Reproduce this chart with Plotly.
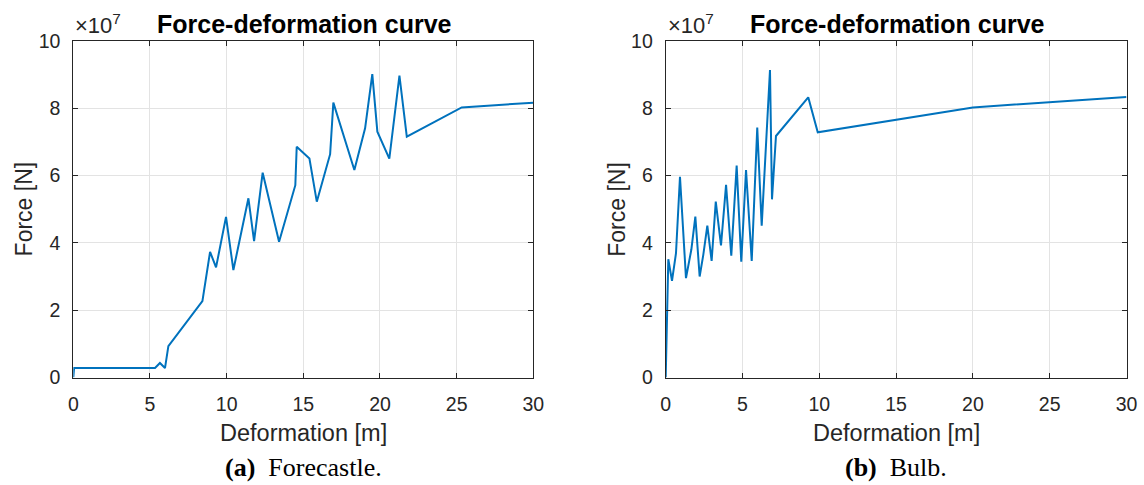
import plotly.graph_objects as go

# Force-deformation data, force in units of 1e7 N
deform_forecastle = [0, 0.05, 5.33, 5.65, 5.98, 6.2, 8.42, 8.92, 9.31, 9.96, 10.44, 11.42, 11.79,
                     12.35, 13.42, 14.48, 14.57, 15.4, 15.88, 16.75, 16.96, 18.33, 19.03, 19.5,
                     19.83, 20.61, 21.27, 21.75, 25.33, 30]
force_forecastle = [0, 0.28, 0.28, 0.43, 0.28, 0.93, 2.27, 3.73, 3.27, 4.77, 3.19, 5.32, 4.05,
                    6.08, 4.03, 5.71, 6.85, 6.5, 5.22, 6.63, 8.16, 6.16, 7.4, 9.01,
                    7.3, 6.5, 8.96, 7.15, 8.02, 8.16]

deform_bulb = [0, 0.17, 0.41, 0.67, 0.93, 1.32, 1.67, 1.93, 2.21, 2.45, 2.71, 2.99, 3.26, 3.6,
               3.93, 4.27, 4.62, 4.92, 5.23, 5.6, 5.96, 6.25, 6.79, 6.92, 7.18, 8.5, 9.28,
               9.9, 20, 30]
force_bulb = [0, 3.51, 2.87, 3.69, 5.96, 2.95, 3.8, 4.78, 3.0, 3.65, 4.51, 3.46, 5.22, 3.92,
              5.72, 3.62, 6.29, 3.44, 6.16, 3.46, 7.42, 4.51, 9.13, 5.29, 7.17, 7.9, 8.32,
              7.28, 8.02, 8.33]

x_ticks = [0, 5, 10, 15, 20, 25, 30]
y_ticks = [0, 2, 4, 6, 8, 10]
captions = [("(a)", "Forecastle."), ("(b)", "Bulb.")]

W, H = 1144, 485
LINE_COLOR = "#0072BD"
AX_COLOR = "#262626"
GRID_COLOR = "#e3e3e3"
SANS = "Liberation Sans, Arial, Helvetica, sans-serif"
SERIF = "Liberation Serif, Times New Roman, serif"

# plot area boxes in pixels (left, right, top, bottom)
boxes = [(73.3, 533.3, 40.7, 377.5), (665.7, 1126.5, 40.7, 377.5)]

fig = go.Figure()
series = [(deform_forecastle, force_forecastle), (deform_bulb, force_bulb)]
for i, (xs, ys) in enumerate(series):
    suffix = "" if i == 0 else "2"
    fig.add_trace(go.Scatter(x=xs, y=ys, mode="lines",
                             line=dict(color=LINE_COLOR, width=2),
                             xaxis="x" + suffix, yaxis="y" + suffix,
                             showlegend=False, hoverinfo="skip"))

axis_common = dict(
    showline=True, linecolor=AX_COLOR, linewidth=1, mirror="ticks",
    ticks="inside", ticklen=5, tickcolor=AX_COLOR, tickwidth=1,
    showgrid=True, gridcolor=GRID_COLOR, gridwidth=1, zeroline=False,
    automargin=False,
    tickfont=dict(family=SANS, size=19.5, color=AX_COLOR),
)

layout = dict(width=W, height=H, margin=dict(l=0, r=0, t=0, b=0, pad=0, autoexpand=False),
              autosize=False,
              paper_bgcolor="white", plot_bgcolor="white", annotations=[])


def px_x(v):
    return v / W


def px_y(v):
    return 1 - v / H


for i, (l, r, t, b) in enumerate(boxes):
    suffix = "" if i == 0 else "2"
    layout["xaxis" + suffix] = dict(axis_common, domain=[px_x(l), px_x(r)], range=[0, 30],
                                    tickvals=x_ticks, anchor="y" + suffix,
                                    ticklabelstandoff=9)
    layout["yaxis" + suffix] = dict(axis_common, domain=[px_y(b), px_y(t)], range=[0, 10],
                                    tickvals=y_ticks, anchor="x" + suffix,
                                    ticklabelstandoff=8)
    cx = (l + r) / 2
    anns = layout["annotations"]
    common = dict(xref="paper", yref="paper", showarrow=False, yanchor="middle")
    anns.append(dict(common, text="<b>Force-deformation curve</b>", x=px_x(cx + 1), y=px_y(24),
                     xanchor="center", font=dict(family=SANS, size=25, color="black")))
    anns.append(dict(common, text="×10<sup>7</sup>", x=px_x(l), y=px_y(24),
                     xanchor="left", font=dict(family=SANS, size=22, color=AX_COLOR)))
    anns.append(dict(common, text="Deformation [m]", x=px_x(cx), y=px_y(433),
                     xanchor="center", font=dict(family=SANS, size=23.5, color=AX_COLOR)))
    anns.append(dict(common, text="Force [N]", x=px_x(l - 49), y=px_y((t + b) / 2),
                     xanchor="center", textangle=-90,
                     font=dict(family=SANS, size=23, color=AX_COLOR)))
    tag, name = captions[i]
    anns.append(dict(common, text=f"<b>{tag}</b>&nbsp;&nbsp;{name}", x=px_x(cx), y=px_y(467),
                     xanchor="center", font=dict(family=SERIF, size=26, color="black")))

fig.update_layout(**layout)
fig.write_html("out.html", config={"responsive": False},
               post_script="document.body.style.margin='0';"
                           "document.documentElement.style.overflow='hidden';")
